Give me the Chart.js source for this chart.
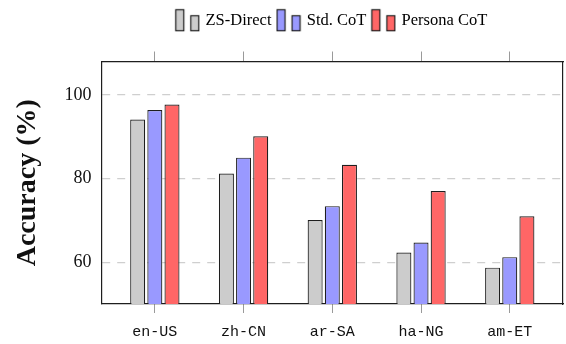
<!DOCTYPE html>
<html>
<head>
<meta charset="utf-8">
<script src="https://cdn.jsdelivr.net/npm/chart.js@4.4.1/dist/chart.umd.min.js"></script>
<style>
  html, body { margin: 0; padding: 0; background: #fff; }
  #wrap { width: 566px; height: 344px; }
</style>
</head>
<body>
<div id="wrap"><canvas id="accChart" width="566" height="344"></canvas></div>
<script>
// values
const locales = ['en-US', 'zh-CN', 'ar-SA', 'ha-NG', 'am-ET'];
const seriesNames = ['ZS-Direct', 'Std. CoT', 'Persona CoT'];
const zsDirect = [94.1, 81.2, 70.1, 62.3, 58.7];
const stdCot = [96.4, 85.0, 73.4, 64.7, 61.2];
const personaCot = [97.7, 90.1, 83.3, 77.0, 71.0];
const yTicks = [60, 80, 100];

const fills = ['#cccccc', '#9999ff', '#ff6666'];
const edge = '#1e1e1e';
const serif = "'Liberation Serif', 'Times New Roman', serif";

// pgfplots style legend image: two small bars
function legendSwatch(fill) {
    const c = document.createElement('canvas');
    c.width = 26;
    c.height = 24;
    const g = c.getContext('2d');
    g.fillStyle = fill;
    g.strokeStyle = edge;
    g.lineWidth = 1.2;
    g.fillRect(1.5, 1.5, 8, 21);
    g.strokeRect(1.5, 1.5, 8, 21);
    g.fillRect(16.5, 7.5, 8, 15);
    g.strokeRect(16.5, 7.5, 8, 15);
    return c;
}

function toPoints(values) {
    return values.map((v, i) => ({ x: i, y: v }));
}

const allSeries = [zsDirect, stdCot, personaCot];
const localeTicks = axis => { axis.ticks = locales.map((l, i) => ({ value: i })); };
const valueTicks = axis => { axis.ticks = yTicks.map(v => ({ value: v })); };

const ctx = document.getElementById('accChart').getContext('2d');
const accChart = new Chart(ctx, {
    type: 'bar',
    data: {
        datasets: allSeries.map((vals, i) => ({
            label: seriesNames[i],
            data: toPoints(vals),
            backgroundColor: fills[i],
            borderColor: edge,
            borderWidth: 1.2,
            borderSkipped: false,
            categoryPercentage: 0.58,
            barPercentage: 0.875
        }))
    },
    options: {
        responsive: false,
        animation: false,
        devicePixelRatio: 1,
        layout: { padding: { top: 5, left: 11, right: 3, bottom: -7 } },
        plugins: {
            tooltip: { enabled: false },
            legend: {
                position: 'top',
                fullSize: false,
                labels: {
                    usePointStyle: true,
                    pointStyleWidth: 20,
                    padding: 7,
                    color: '#111',
                    font: { family: serif, size: 16.5 },
                    generateLabels: chart => chart.data.datasets.map((ds, i) => ({
                        text: ds.label,
                        pointStyle: legendSwatch(fills[i]),
                        fillStyle: fills[i],
                        strokeStyle: edge,
                        lineWidth: 0,
                        hidden: false,
                        datasetIndex: i
                    }))
                }
            }
        },
        scales: {
            x: {
                type: 'linear',
                position: 'bottom',
                offset: false,
                min: -0.6,
                max: 4.6,
                afterBuildTicks: localeTicks,
                ticks: {
                    callback: v => locales[v],
                    padding: 10,
                    color: '#111',
                    font: { family: "'Liberation Mono', 'DejaVu Sans Mono', monospace", size: 15 }
                },
                grid: {
                    offset: false,
                    drawOnChartArea: false,
                    drawTicks: true,
                    tickLength: 9,
                    tickColor: '#9a9a9a',
                    tickWidth: 1
                },
                border: { display: true, color: edge, width: 1.2 }
            },
            xTop: {
                type: 'linear',
                position: 'top',
                offset: false,
                min: -0.6,
                max: 4.6,
                afterBuildTicks: localeTicks,
                ticks: { display: false },
                grid: {
                    offset: false,
                    drawOnChartArea: false,
                    drawTicks: true,
                    tickLength: 10,
                    tickColor: '#9a9a9a',
                    tickWidth: 1
                },
                title: { display: true, text: '', font: { size: 10, lineHeight: 1 }, padding: { top: 3, bottom: 0 } },
                border: { display: true, color: edge, width: 1.2 }
            },
            y: {
                min: 50,
                max: 108,
                afterBuildTicks: valueTicks,
                ticks: {
                    padding: 10,
                    color: '#111',
                    font: { family: serif, size: 18 }
                },
                grid: {
                    color: '#cfcfcf',
                    lineWidth: 1.2,
                    drawTicks: false
                },
                border: { display: true, color: edge, width: 1.2, dash: [8, 7] },
                title: {
                    display: true,
                    text: 'Accuracy (%)',
                    color: '#111',
                    font: { family: serif, size: 28, weight: 'bold' },
                    padding: { top: 0, bottom: 10 }
                }
            },
            yRight: {
                position: 'right',
                min: 50,
                max: 108,
                afterBuildTicks: valueTicks,
                ticks: { display: false },
                grid: { drawOnChartArea: false, drawTicks: false },
                border: { display: true, color: edge, width: 1.2 }
            }
        }
    }
});
</script>
</body>
</html>
